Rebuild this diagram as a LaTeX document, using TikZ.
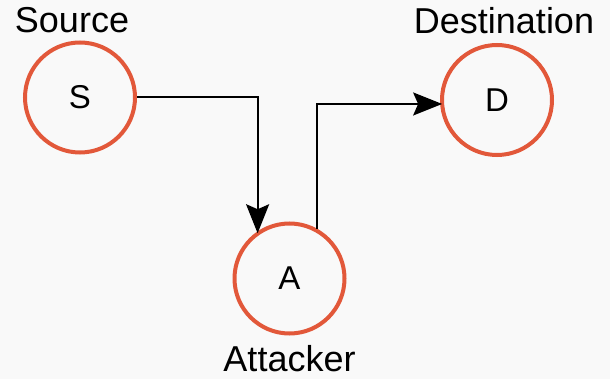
\documentclass[tikz,border=0pt]{standalone}
\usepackage{fontspec}
\setmainfont{Liberation Sans}
\usetikzlibrary{arrows.meta}
\definecolor{bgc}{RGB}{249,249,249}
\definecolor{ringc}{RGB}{226,88,58}
\tikzset{
  host/.style={circle, draw=ringc, line width=4pt, fill=bgc, minimum size=110pt, inner sep=0pt, font=\fontsize{33}{33}\selectfont},
  caption/.style={anchor=base, inner sep=0pt, font=\fontsize{36}{36}\selectfont},
  flow/.style={draw=black, line width=2pt, shorten >=-2pt, -{Stealth[length=29pt, width=23pt, inset=5pt]}}
}
\begin{document}
\begin{tikzpicture}[x=1pt, y=-1pt]
  \fill[bgc] (0,0) rectangle (610,379);
  \useasboundingbox (0,0) rectangle (610,379);
  \node[host] (S) at (80,97.5) {S};
  \node[host] (A) at (289.5,278.5) {A};
  \node[host] (D) at (497,100) {D};
  \node[caption] (ls) at (72,33) {Source};
  \node[caption] (ld) at (504,34) {Destination};
  \node[caption] (la) at (289.5,371) {Attacker};
  \draw[flow] (S.east) -| (A.124);
  \draw[flow] (A.61) |- (D.184);
\end{tikzpicture}
\end{document}
